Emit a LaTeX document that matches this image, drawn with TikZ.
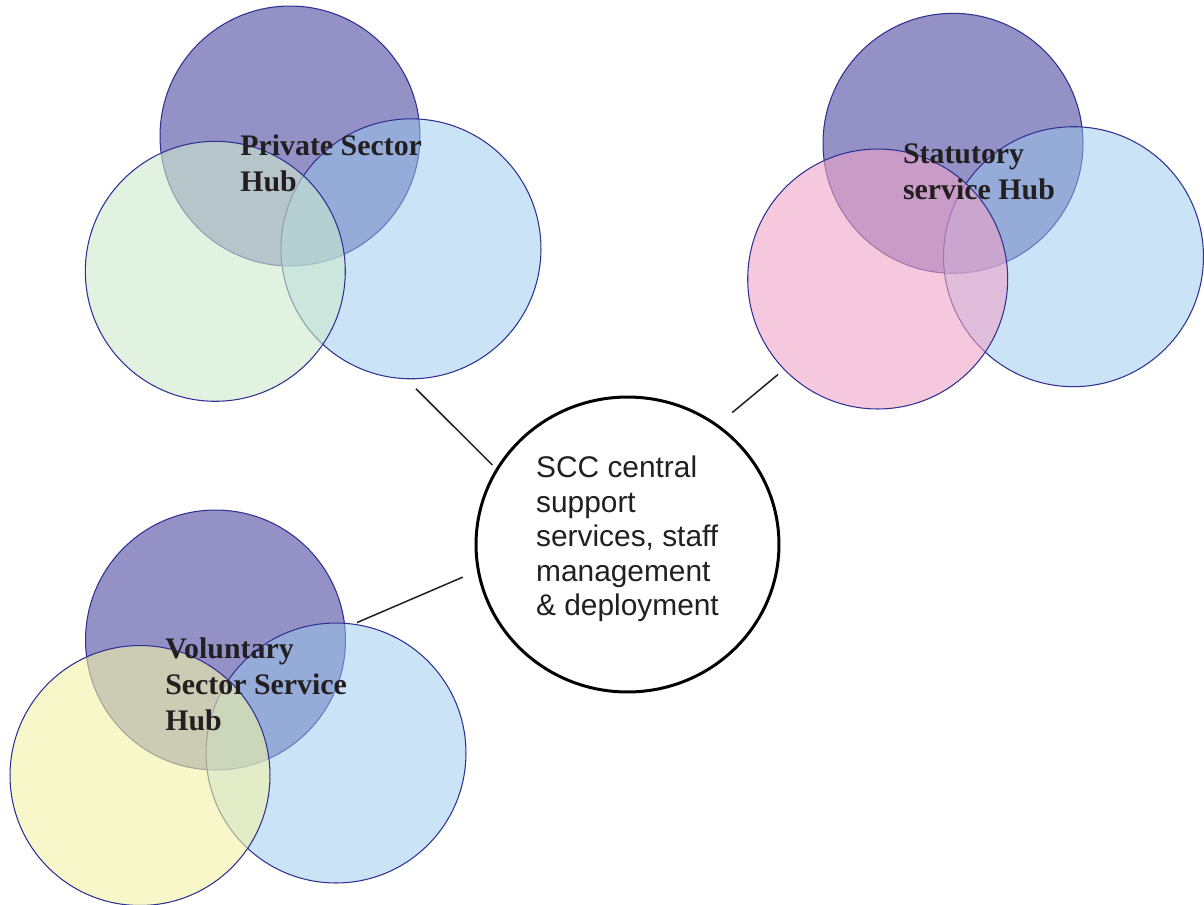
\documentclass[tikz,border=0pt]{standalone}
\usepackage{fontspec}
\setmainfont{Liberation Serif}
\setsansfont{Liberation Sans}
\usetikzlibrary{positioning, shapes.geometric}
\definecolor{hubline}{RGB}{46,49,146}
\definecolor{hubpurple}{RGB}{147,145,198}
\definecolor{hubblue}{RGB}{151,199,237}
\definecolor{hubgreen}{RGB}{205,233,204}
\definecolor{hubpink}{RGB}{238,163,200}
\definecolor{hubyellow}{RGB}{242,242,167}
\definecolor{inkgrey}{RGB}{35,31,32}

\begin{document}
\begin{tikzpicture}[x=0.02cm, y=-0.02cm]
\tikzstyle{every node}+=[inner sep=0pt]
\tikzstyle{hub}=[circle, draw=hubline, line width=0.6pt, minimum size=5.2cm, fill opacity=0.6]
\tikzstyle{hubname}=[anchor=base west, align=left, text=inkgrey, font=\bfseries\fontsize{17}{20.4}\selectfont]
\tikzstyle{core}=[ellipse, draw=black, line width=1.7pt, minimum width=6.06cm, minimum height=5.9cm]
\tikzstyle{coretext}=[align=left, text=inkgrey, font=\sffamily\fontsize{17}{19.7}\selectfont]
\tikzstyle{link}=[draw=inkgrey, line width=0.85pt]
\useasboundingbox (0,0) rectangle (1204,904);
\node [hub, fill=hubpurple, fill opacity=1] (privP) at (290,136) {};
\node [hub, fill=hubblue, fill opacity=0.5] (privB) at (411,248.8) {};
\node [hub, fill=hubgreen] (privG) at (215.3,271.3) {};
\node [hubname] (privname) at (240,191.7) {Private Sector\\Hub};
\node [hub, fill=hubpurple, fill opacity=1] (statP) at (953,143.3) {};
\node [hub, fill=hubblue, fill opacity=0.5] (statB) at (1073.5,256.7) {};
\node [hub, fill=hubpink] (statK) at (877.7,279) {};
\node [hubname] (statname) at (902.7,199) {Statutory\\service Hub};
\node [hub, fill=hubpurple, fill opacity=1] (volP) at (215.5,640) {};
\node [hub, fill=hubblue, fill opacity=0.5] (volB) at (336,753) {};
\node [hub, fill=hubyellow] (volY) at (140,775.5) {};
\node [hubname] (volname) at (165,730.5) {Voluntary\\Sector Service\\Hub};
\node [core] (scc) at (627.5,544.5) {};
\node [coretext] (scctext) at (627.5,539) {SCC central\\support\\services, staff\\management\\\& deployment};
\draw [link, shorten <=0.27cm, shorten >=0.1cm] (privB.-92) -- (scc.150);
\draw [link, shorten <=0.15cm, shorten >=0.37cm] (statK.224) -- (scc.53);
\draw [link, shorten <=0.06cm, shorten >=0.31cm] (volB.82) -- (scc.190);
\end{tikzpicture}
\end{document}
